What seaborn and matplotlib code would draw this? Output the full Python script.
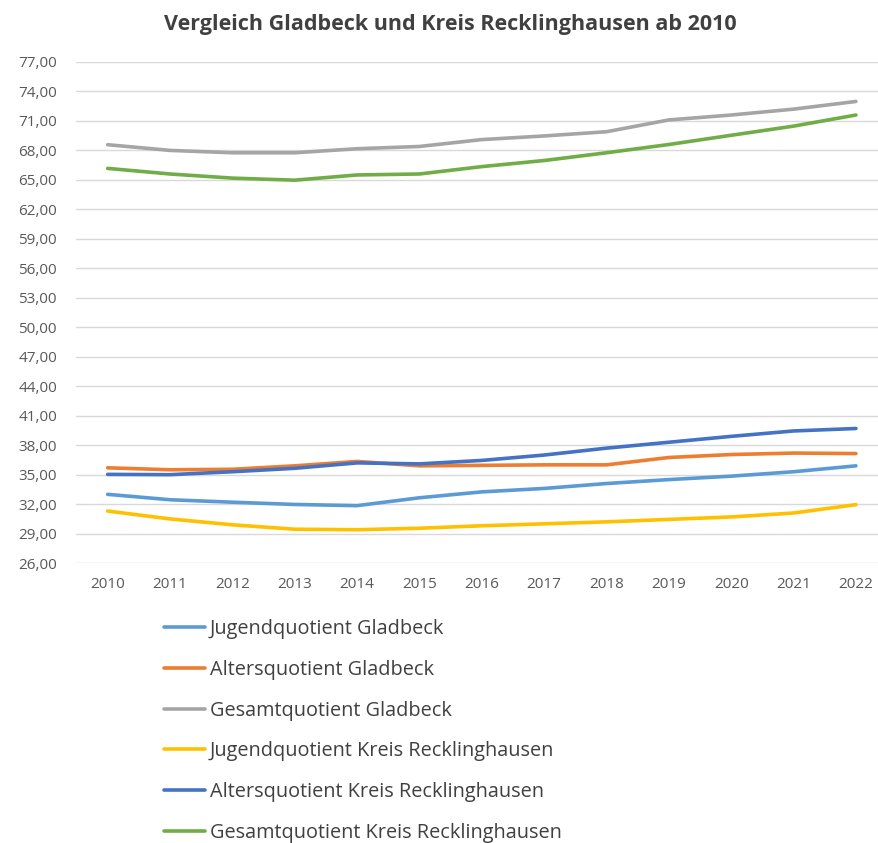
import pandas as pd
import seaborn as sns
import matplotlib.pyplot as plt
from matplotlib.ticker import FuncFormatter

years = list(range(2010, 2023))

jugend_gladbeck = [33.0, 32.45, 32.2, 31.97, 31.85, 32.65, 33.25, 33.6, 34.1, 34.5, 34.85, 35.3, 35.9]
alters_gladbeck = [35.7, 35.5, 35.55, 35.9, 36.35, 35.9, 35.95, 36.0, 36.0, 36.75, 37.05, 37.2, 37.15]
gesamt_gladbeck = [68.58, 68.0, 67.76, 67.76, 68.17, 68.4, 69.1, 69.47, 69.9, 71.1, 71.6, 72.2, 72.98]
jugend_kreis = [31.3, 30.5, 29.9, 29.45, 29.4, 29.55, 29.8, 30.0, 30.2, 30.45, 30.7, 31.1, 31.95]
alters_kreis = [35.03, 35.0, 35.3, 35.65, 36.2, 36.1, 36.45, 37.0, 37.7, 38.3, 38.9, 39.45, 39.7]
gesamt_kreis = [66.17, 65.6, 65.18, 64.97, 65.5, 65.6, 66.35, 66.97, 67.76, 68.6, 69.54, 70.47, 71.6]

series_names = [
    "Jugendquotient Gladbeck",
    "Altersquotient Gladbeck",
    "Gesamtquotient Gladbeck",
    "Jugendquotient Kreis Recklinghausen",
    "Altersquotient Kreis Recklinghausen",
    "Gesamtquotient Kreis Recklinghausen",
]
series_values = [jugend_gladbeck, alters_gladbeck, gesamt_gladbeck,
                 jugend_kreis, alters_kreis, gesamt_kreis]
colors = ["#5B9BD5", "#ED7D31", "#A5A5A5", "#FFC000", "#4472C4", "#70AD47"]

rows = []
for name, vals in zip(series_names, series_values):
    for y, v in zip(years, vals):
        rows.append({"Jahr": y, "Wert": v, "Reihe": name})
df = pd.DataFrame(rows)

sns.set_theme(style="white")
plt.rcParams['font.family'] = ['Open Sans', 'DejaVu Sans']

fig = plt.figure(figsize=(8.79, 8.43), dpi=100)
ax = fig.add_axes([0.087, 0.332, 0.913, 0.5945])

sns.lineplot(data=df, x="Jahr", y="Wert", hue="Reihe", hue_order=series_names,
             palette=colors, linewidth=2.6, ax=ax, legend=False)

ax.set_ylim(26, 77)
ax.set_yticks(list(range(26, 78, 3)))
ax.yaxis.set_major_formatter(FuncFormatter(lambda v, p: f"{v:.2f}".replace(".", ",")))
ax.set_xlim(2009.5, 2022.37)
ax.set_xticks(years)
ax.set_xticklabels([str(y) for y in years])
ax.grid(axis="y", color="#D9D9D9", linewidth=1.0)
ax.set_axisbelow(True)
for s in ax.spines.values():
    s.set_visible(False)
ax.tick_params(axis="both", length=0, labelsize=11, labelcolor="#595959")
ax.tick_params(axis="y", pad=14)
ax.tick_params(axis="x", pad=10)
ax.set_xlabel("")
ax.set_ylabel("")

fig.text(450 / 879, 0.971, "Vergleich Gladbeck und Kreis Recklinghausen ab 2010",
         ha="center", va="center", fontsize=15.5, fontweight="bold", color="#404040")

handles = [plt.Line2D([], [], color=c, linewidth=2.6) for c in colors]
fig.legend(handles, series_names, loc="upper left", bbox_to_anchor=(146 / 879, 1 - 601 / 843),
           frameon=False, fontsize=14.3, labelcolor="#404040", handlelength=2.05,
           handletextpad=0.25, labelspacing=1.05)

plt.savefig("out.png", dpi=100)
plt.close()
